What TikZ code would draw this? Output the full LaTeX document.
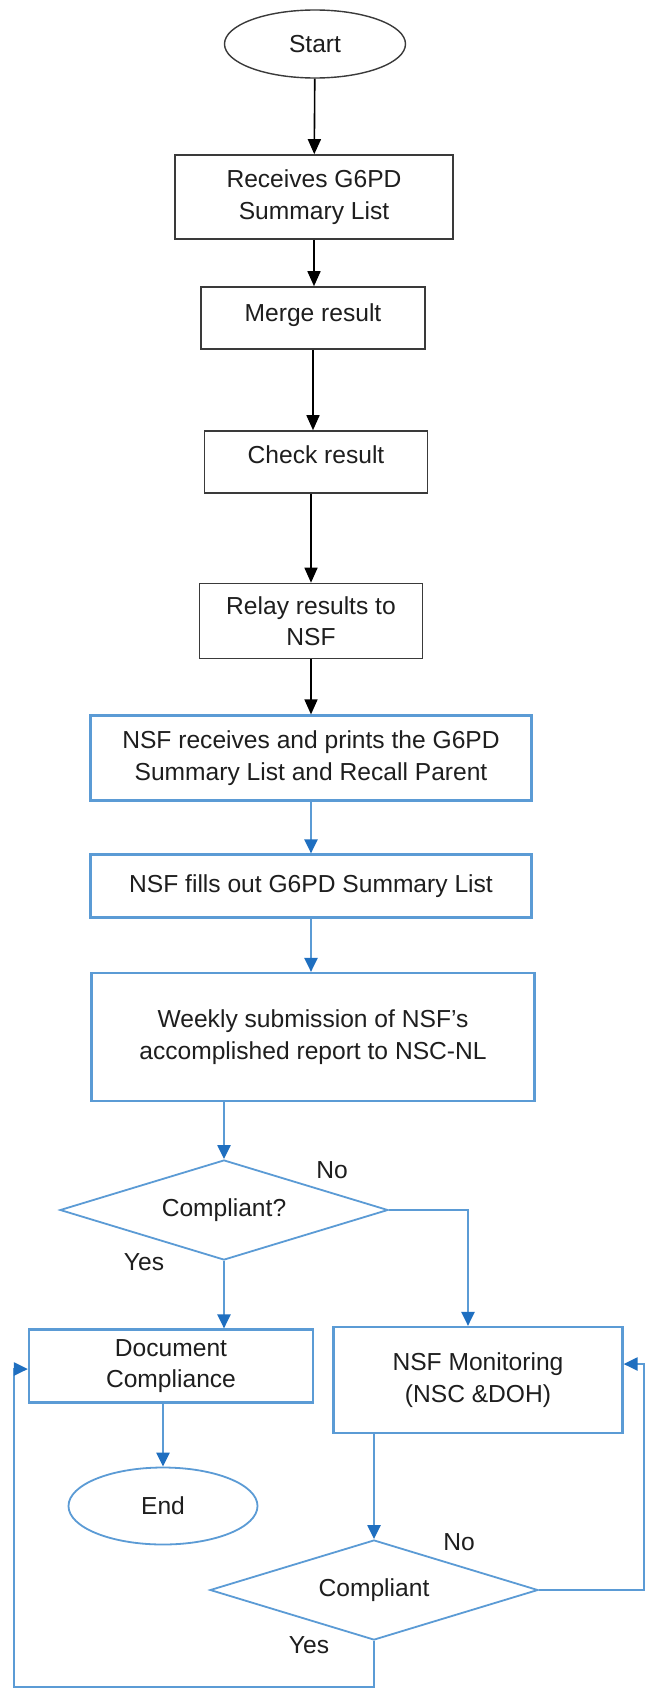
\documentclass[tikz,border=0pt]{standalone}
\usepackage{fontspec}
\setmainfont{Liberation Sans}
\usetikzlibrary{shapes.geometric,arrows.meta}
\definecolor{boxblue}{HTML}{5B9BD5}
\definecolor{arrblue}{HTML}{1F6FC0}
\definecolor{txt}{HTML}{1E1E1E}
\definecolor{boxblack}{HTML}{3A3A3A}
\begin{document}
\begin{tikzpicture}[x=1pt,y=-1pt,
  every node/.style={font=\fontsize{24.6}{31.5}\selectfont, text=txt, align=center, inner sep=0pt},
  blk/.style={draw=boxblack, line width=1.6pt, rectangle},
  blu/.style={draw=boxblue, line width=2.2pt, rectangle},
  oval/.style={draw=boxblack, line width=1.4pt, ellipse},
  ovalb/.style={draw=boxblue, line width=1.8pt, ellipse},
  dia/.style={draw=boxblue, line width=1.8pt, diamond, aspect=3.28},
  blkarrow/.style={draw=black, line width=1.6pt, -{Triangle[length=15pt,width=13pt]}},
  bluarrow/.style={draw=boxblue, line width=2.2pt, -{Triangle[length=14pt,width=13pt,color=arrblue]}}
]
\fill[white] (0,0) rectangle (646,1689);
\useasboundingbox (0,0) rectangle (646,1689);

\node[oval, minimum width=181pt, minimum height=68pt] (start) at (315,44) {Start};
\node[blk, minimum width=278pt, minimum height=84pt] (recv) at (314,197) {Receives G6PD\\Summary List};
\node[blk, minimum width=224pt, minimum height=62pt, text height=18pt, text depth=12pt] (merge) at (313,318) {Merge result};
\node[blk, minimum width=223pt, minimum height=62pt, text height=18pt, text depth=16pt] (check) at (316,462) {Check result};
\node[blk, minimum width=223pt, minimum height=75pt] (relay) at (311,621) {Relay results to\\NSF};
\node[blu, minimum width=441pt, minimum height=85pt] (nsfrec) at (311,758) {NSF receives and prints the G6PD\\Summary List and Recall Parent};
\node[blu, minimum width=441pt, minimum height=63pt] (nsffill) at (311,886) {NSF fills out G6PD Summary List};
\node[blu, minimum width=443pt, minimum height=128pt] (weekly) at (313,1037) {Weekly submission of NSF’s\\accomplished report to NSC-NL};
\node[dia, minimum width=328pt, minimum height=100pt] (comp1) at (224,1210) {Compliant?};
\node[blu, minimum width=284pt, minimum height=73pt] (doc) at (171,1366) {Document\\Compliance};
\node[blu, minimum width=289pt, minimum height=106pt] (mon) at (478,1380) {NSF Monitoring\\(NSC \&DOH)};
\node[ovalb, minimum width=189pt, minimum height=77pt] (end) at (163,1506) {End};
\node[dia, minimum width=328pt, minimum height=100pt] (comp2) at (374,1590) {Compliant};

\node (no1) at (332,1170) {No};
\node (yes1) at (144,1262) {Yes};
\node (no2) at (459,1542) {No};
\node (yes2) at (309,1645) {Yes};

\coordinate (rloop) at (644,1364);
\coordinate (bloop) at (14,1687);

\draw[blkarrow] (start) -- (recv);
\draw[blkarrow] (recv.south) -- (recv.south |- merge.north);
\draw[blkarrow] (merge.south) -- (merge.south |- check.north);
\draw[blkarrow] (relay.north |- check.south) -- (relay.north);
\draw[blkarrow] (relay.south) -- (relay.south |- nsfrec.north);
\draw[bluarrow] (nsfrec.south) -- (nsfrec.south |- nsffill.north);
\draw[bluarrow] (nsffill.south) -- (nsffill.south |- weekly.north);
\draw[bluarrow] (comp1.north |- weekly.south) -- (comp1.north);
\draw[bluarrow] (comp1.east) -| ([xshift=-10pt]mon.north);
\draw[bluarrow] (comp1.south) -- (comp1.south |- doc.north);
\draw[bluarrow] (end.north |- doc.south) -- (end.north);
\draw[bluarrow] (comp2.north |- mon.south) -- (comp2.north);
\draw[bluarrow] (comp2.east) -| (rloop) -- (rloop -| mon.east);
\draw[bluarrow] (comp2.south) |- (bloop) |- ([yshift=-3pt]doc.west);
\end{tikzpicture}
\end{document}
